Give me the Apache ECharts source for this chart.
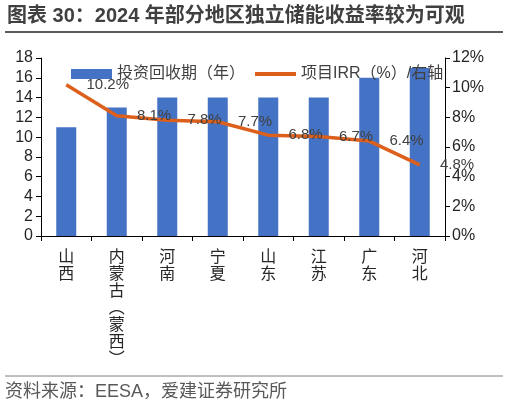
<!DOCTYPE html>
<html><head><meta charset="utf-8">
<script src="https://cdn.jsdelivr.net/npm/echarts@6/dist/echarts.min.js"></script>
<style>html,body{margin:0;padding:0;background:#fff}#c{width:508px;height:407px}</style>
</head><body><div id="c"></div>
<script>
const categories = ['山\n西','内\n蒙\n古\n︵\n蒙\n西\n︶','河\n南','宁\n夏','山\n东','江\n苏','广\n东','河\n北'];
const paybackYears = [11,13,14,14,14,14,16,17];
const irrPercent = [10.2,8.1,7.8,7.7,6.8,6.7,6.4,4.8];
const titleText = '图表 30：2024 年部分地区独立储能收益率较为可观';
const sourceText = '资料来源：EESA，爱建证券研究所';
const FF = '"Liberation Sans", "Noto Sans CJK SC", sans-serif';
const chart = echarts.init(document.getElementById('c'), null, {renderer:'canvas'});
chart.setOption({
  animation:false,
  backgroundColor:'#fff',
  textStyle:{fontFamily:FF},
  graphic:[
    {type:'text',left:7,top:6,style:{text:titleText,font:'bold 20px '+FF,fill:'#404040'}},
    {type:'line',shape:{x1:5,y1:32,x2:503,y2:32},style:{stroke:'#262626',lineWidth:1.5}},
    {type:'line',shape:{x1:5,y1:376,x2:503,y2:376},style:{stroke:'#7f7f7f',lineWidth:1}},
    {type:'text',left:5,top:383,style:{text:sourceText,font:'18px '+FF,fill:'#595959'}}
  ],
  legend:{
    top:61,left:66,itemWidth:41,itemHeight:10,itemGap:8,
    textStyle:{fontSize:16,color:'#404040',fontFamily:FF},
    data:[{name:'投资回收期（年）',icon:'rect'},
          {name:'项目IRR（%）/右轴',itemStyle:{opacity:0},lineStyle:{width:4,color:'#DD5F1C'}}]
  },
  grid:{left:41,right:63,top:58,bottom:171,containLabel:false},
  xAxis:{
    type:'category',data:categories,boundaryGap:true,
    axisLine:{lineStyle:{color:'#000',width:1}},
    axisTick:{show:true,length:5,alignWithLabel:false,lineStyle:{color:'#000'}},
    axisLabel:{interval:0,fontSize:16,lineHeight:17,color:'#262626',margin:11,fontFamily:'"Noto Sans CJK SC", sans-serif'}
  },
  yAxis:[
    {type:'value',min:0,max:18,interval:2,
     axisLine:{show:true,lineStyle:{color:'#000'}},
     axisTick:{show:true,length:5,lineStyle:{color:'#000'}},
     splitLine:{show:false},
     axisLabel:{fontSize:16,color:'#262626',margin:8}},
    {type:'value',min:0,max:12,interval:2,position:'right',
     axisLine:{show:true,lineStyle:{color:'#000'}},
     axisTick:{show:true,length:5,lineStyle:{color:'#000'}},
     splitLine:{show:false},
     axisLabel:{fontSize:16,color:'#262626',margin:7,formatter:'{value}%'}}
  ],
  series:[
    {name:'投资回收期（年）',type:'bar',data:paybackYears,barWidth:20,
     itemStyle:{color:'#4472C4'},yAxisIndex:0},
    {name:'项目IRR（%）/右轴',type:'line',data:irrPercent,yAxisIndex:1,
     symbol:'circle',symbolSize:0.5,showSymbol:true,showAllSymbol:true,smooth:false,z:5,
     lineStyle:{color:'#DD5F1C',width:3.5},itemStyle:{color:'#DD5F1C'},
     labelLayout:{hideOverlap:false},
     label:{show:true,position:'right',distance:20,fontSize:15,color:'#404040',
       formatter:function(p){return Number(p.value).toFixed(1)+'%';}}}
  ]
});
</script></body></html>
